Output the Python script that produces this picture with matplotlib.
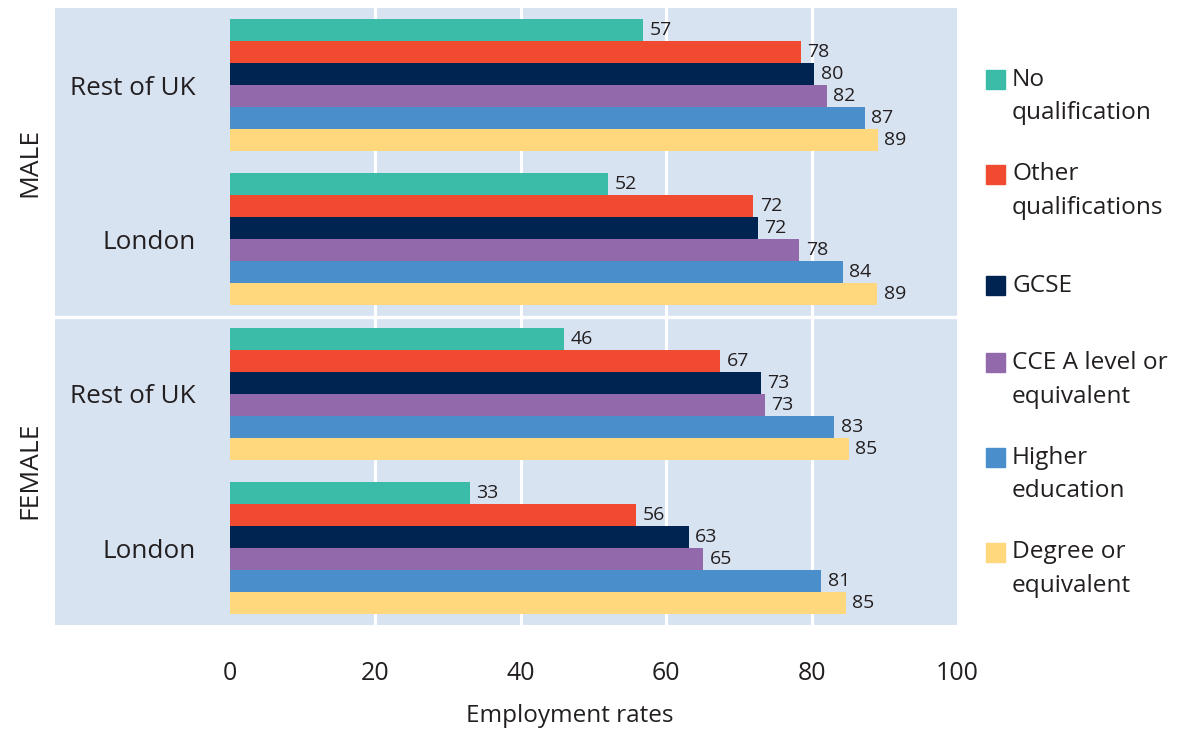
import matplotlib
matplotlib.use("Agg")
import matplotlib.pyplot as plt
from matplotlib.patches import Rectangle

plt.rcParams['font.family'] = ['Open Sans', 'DejaVu Sans']

# data (top group first)
groups = ["Rest of UK", "London", "Rest of UK", "London"]
sexes = ["MALE", "FEMALE"]
series = ["No\nqualification", "Other\nqualifications", "GCSE",
          "CCE A level or\nequivalent", "Higher\neducation", "Degree or\nequivalent"]
colors = ["#3bbca8", "#f04a31", "#002451", "#926aab", "#4a8fcc", "#ffd77d"]

male_rest = [56.9, 78.5, 80.4, 82.1, 87.3, 89.1]
male_london = [52.0, 72.0, 72.6, 78.3, 84.3, 89.0]
female_rest = [46.0, 67.4, 73.0, 73.6, 83.1, 85.1]
female_london = [33.0, 55.9, 63.1, 65.1, 81.3, 84.7]

male_rest_lab = [57, 78, 80, 82, 87, 89]
male_london_lab = [52, 72, 72, 78, 84, 89]
female_rest_lab = [46, 67, 73, 73, 83, 85]
female_london_lab = [33, 56, 63, 65, 81, 85]

values = [male_rest, male_london, female_rest, female_london]
labels = [male_rest_lab, male_london_lab, female_rest_lab, female_london_lab]

txt = "#231f20"
bg = "#d8e3f2"

fig = plt.figure(figsize=(11.8, 7.31), dpi=100)
ax = fig.add_axes([55 / 1180, 1 - 625 / 731, 902 / 1180, 617 / 731])
ax.set_facecolor(bg)
for s in ax.spines.values():
    s.set_visible(False)

# bars: 6 per group, one empty slot between groups
for g in range(len(groups)):
    for i in range(len(series)):
        y = g * 7 + i
        ax.barh(y, values[g][i], height=1.0, color=colors[i], zorder=3)
        ax.text(values[g][i] + 0.9, y, str(labels[g][i]), ha='left', va='center',
                fontsize=14, color=txt, zorder=4)
    ax.text(-4.7, g * 7 + 2.65, groups[g], ha='right', va='center', fontsize=18.8, color=txt)

for xv in [20, 40, 60, 80]:
    ax.axvline(xv, color='white', lw=2.2, zorder=1)
ax.axhline(13, color='white', lw=2.4, zorder=2)

ax.set_xlim(-24, 100)
ax.set_ylim(27, -1)
ax.set_yticks([])
ax.set_xticks([0, 20, 40, 60, 80, 100])
ax.tick_params(axis='x', length=0, pad=26, labelsize=18, labelcolor=txt)

fig.text(570 / 1180, 1 - 716 / 731, "Employment rates", ha='center', va='center',
         fontsize=17.5, color=txt)

# MALE / FEMALE side labels
fig.text(30 / 1180, 1 - 162 / 731, sexes[0], rotation=90, ha='center', va='center',
         fontsize=19, color=txt)
fig.text(30 / 1180, 1 - 470 / 731, sexes[1], rotation=90, ha='center', va='center',
         fontsize=19, color=txt)

# legend on the right, square next to first line
line_h = 34
for i, name in enumerate(series):
    n = name.count("\n") + 1
    cy = 96.5 + i * 94.5
    first = cy - (n - 1) * line_h / 2
    fig.patches.append(Rectangle((986 / 1180, 1 - (first + 9.5) / 731), 19 / 1180, 19 / 731,
                                 transform=fig.transFigure, color=colors[i]))
    fig.text(1012 / 1180, 1 - cy / 731, name, ha='left', va='center', fontsize=17.6,
             color=txt, linespacing=1.55)

fig.savefig("out.png", dpi=100)
